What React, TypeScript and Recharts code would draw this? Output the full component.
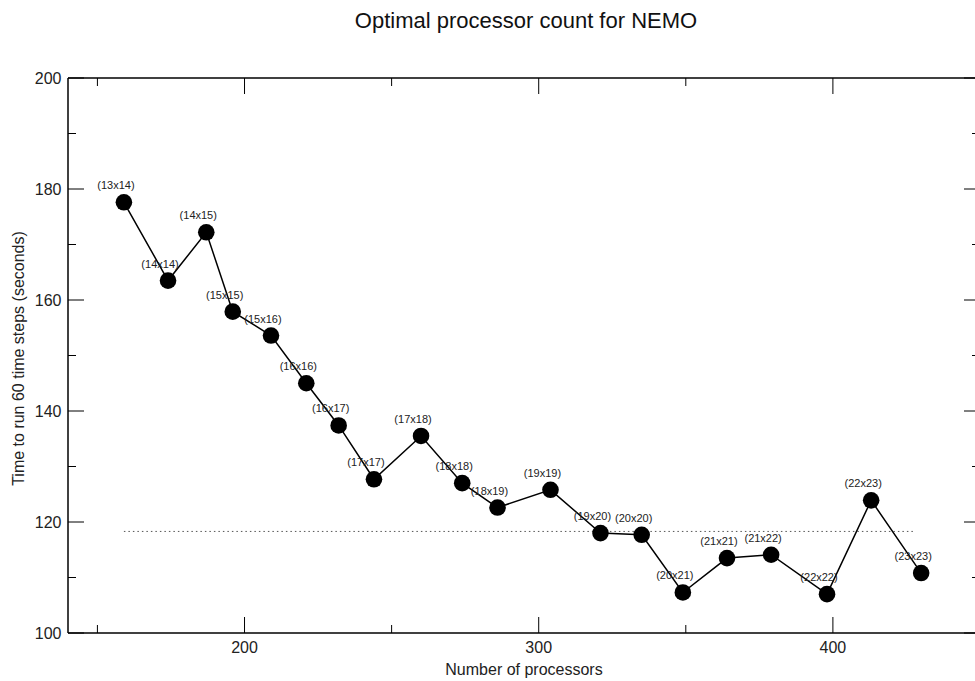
import { Label, LabelList, Line, LineChart, ReferenceLine, XAxis, YAxis } from "recharts";

// processor counts (after land-only domains removed), one per decomposition
const processors = [159, 174, 187, 196, 209, 221, 232, 244, 260, 274, 286, 304, 321, 335, 349, 364, 379, 398, 413, 430];
const seconds = [
  177.6, 163.5, 172.2, 157.9, 153.6, 145.0, 137.4, 127.7, 135.5, 127.0,
  122.6, 125.8, 118.0, 117.7, 107.3, 113.5, 114.1, 107.0, 123.9, 110.8,
];
const grids = [
  "13x14", "14x14", "14x15", "15x15", "15x16", "16x16", "16x17", "17x17", "17x18", "18x18",
  "18x19", "19x19", "19x20", "20x20", "20x21", "21x21", "21x22", "22x22", "22x23", "23x23",
];
const referenceTime = 118.3;
const referenceStart = 159;
const referenceEnd = 428;

const xTicks = [150, 200, 250, 300, 350, 400, 450];
const yTicks = [100, 110, 120, 130, 140, 150, 160, 170, 180, 190, 200];

const data = processors.map((p, i) => ({ processors: p, seconds: seconds[i], grid: grids[i] }));

const FONT = '"Liberation Sans", Arial, Helvetica, sans-serif';
const MAJOR = 16;
const MINOR = 8;

function BottomTick({ x, y, payload }: any) {
  const major = payload.value % 100 === 0;
  return (
    <g>
      <line x1={x} x2={x} y1={y} y2={y - (major ? MAJOR : MINOR)} stroke="#000" strokeWidth={1} />
      {major && (
        <text x={x} y={y + 20} textAnchor="middle" fontSize={16} fontFamily={FONT} fill="#222">
          {payload.value}
        </text>
      )}
    </g>
  );
}

function TopTick({ x, y, payload }: any) {
  const major = payload.value % 100 === 0;
  return <line x1={x} x2={x} y1={y} y2={y + (major ? MAJOR : MINOR)} stroke="#000" strokeWidth={1} />;
}

function LeftTick({ x, y, payload }: any) {
  const major = payload.value % 20 === 0;
  return (
    <g>
      <line x1={x} x2={x + (major ? MAJOR : MINOR)} y1={y} y2={y} stroke="#000" strokeWidth={1} />
      {major && (
        <text x={x - 6.5} y={y + 6} textAnchor="end" fontSize={16} fontFamily={FONT} fill="#222">
          {payload.value}
        </text>
      )}
    </g>
  );
}

function RightTick({ x, y, payload }: any) {
  const major = payload.value % 20 === 0;
  return <line x1={x} x2={x - (major ? MAJOR : MINOR)} y1={y} y2={y} stroke="#000" strokeWidth={1} />;
}

function PointLabel({ x, y, value }: any) {
  return (
    <text x={x - 8} y={y - 13} textAnchor="middle" fontSize={11} fontFamily={FONT} fill="#222">
      ({value})
    </text>
  );
}

export default function App() {
  return (
    <div
      style={{
        position: "absolute",
        left: 0,
        top: 0,
        width: 975,
        height: 681,
        overflow: "hidden",
        background: "#fff",
      }}
    >
      <LineChart width={990} height={681} data={data} margin={{ top: 77, right: 9, bottom: 0, left: 0 }}>
        <XAxis
          dataKey="processors"
          type="number"
          domain={[140, 450]}
          ticks={xTicks}
          interval={0}
          allowDataOverflow
          height={48}
          tickSize={0}
          tickMargin={0}
          tick={(p: any) => <BottomTick {...p} />}
          axisLine={{ stroke: "#000", strokeWidth: 1.5 }}
        >
          <Label
            content={({ viewBox }: any) => (
              <text
                x={viewBox.x + viewBox.width / 2}
                y={viewBox.y + 42}
                textAnchor="middle"
                fontSize={16}
                fontFamily={FONT}
                fill="#222"
              >
                Number of processors
              </text>
            )}
          />
        </XAxis>
        <XAxis
          xAxisId="top"
          dataKey="processors"
          orientation="top"
          type="number"
          domain={[140, 450]}
          ticks={xTicks}
          interval={0}
          allowDataOverflow
          height={1}
          tickSize={0}
          tickMargin={0}
          tick={(p: any) => <TopTick {...p} />}
          axisLine={{ stroke: "#000", strokeWidth: 1.5 }}
        >
          <Label
            content={({ viewBox }: any) => (
              <text
                x={viewBox.x + viewBox.width / 2 + 2}
                y={28}
                textAnchor="middle"
                fontSize={22}
                fontFamily={FONT}
                fill="#111"
              >
                Optimal processor count for NEMO
              </text>
            )}
          />
        </XAxis>
        <YAxis
          type="number"
          domain={[100, 200]}
          ticks={yTicks}
          interval={0}
          allowDataOverflow
          width={68}
          tickSize={0}
          tickMargin={0}
          tick={(p: any) => <LeftTick {...p} />}
          axisLine={{ stroke: "#000", strokeWidth: 1.5 }}
        >
          <Label
            content={({ viewBox }: any) => {
              const cx = 18.5;
              const cy = viewBox.y + viewBox.height / 2 + 3;
              return (
                <text
                  x={cx}
                  y={cy}
                  transform={`rotate(-90 ${cx} ${cy})`}
                  textAnchor="middle"
                  dominantBaseline="central"
                  fontSize={16}
                  fontFamily={FONT}
                  fill="#222"
                >
                  Time to run 60 time steps (seconds)
                </text>
              );
            }}
          />
        </YAxis>
        <YAxis
          yAxisId="right"
          orientation="right"
          type="number"
          domain={[100, 200]}
          ticks={yTicks}
          interval={0}
          allowDataOverflow
          width={1}
          tickSize={0}
          tickMargin={0}
          tick={(p: any) => <RightTick {...p} />}
          axisLine={{ stroke: "#000", strokeWidth: 1.5 }}
        />
        <ReferenceLine
          segment={[
            { x: referenceStart, y: referenceTime },
            { x: referenceEnd, y: referenceTime },
          ]}
          stroke="#555"
          strokeWidth={1}
          strokeDasharray="1.5 3"
        />
        {/* invisible series so the mirrored top/right axes get drawn */}
        <Line
          xAxisId="top"
          yAxisId="right"
          dataKey="seconds"
          stroke="none"
          dot={false}
          activeDot={false}
          legendType="none"
          isAnimationActive={false}
        />
        <Line
          dataKey="seconds"
          stroke="#000"
          strokeWidth={1.5}
          dot={{ r: 8.3, fill: "#000", stroke: "#000", strokeWidth: 0 }}
          activeDot={false}
          isAnimationActive={false}
        >
          <LabelList dataKey="grid" content={(p: any) => <PointLabel {...p} />} />
        </Line>
      </LineChart>
    </div>
  );
}
